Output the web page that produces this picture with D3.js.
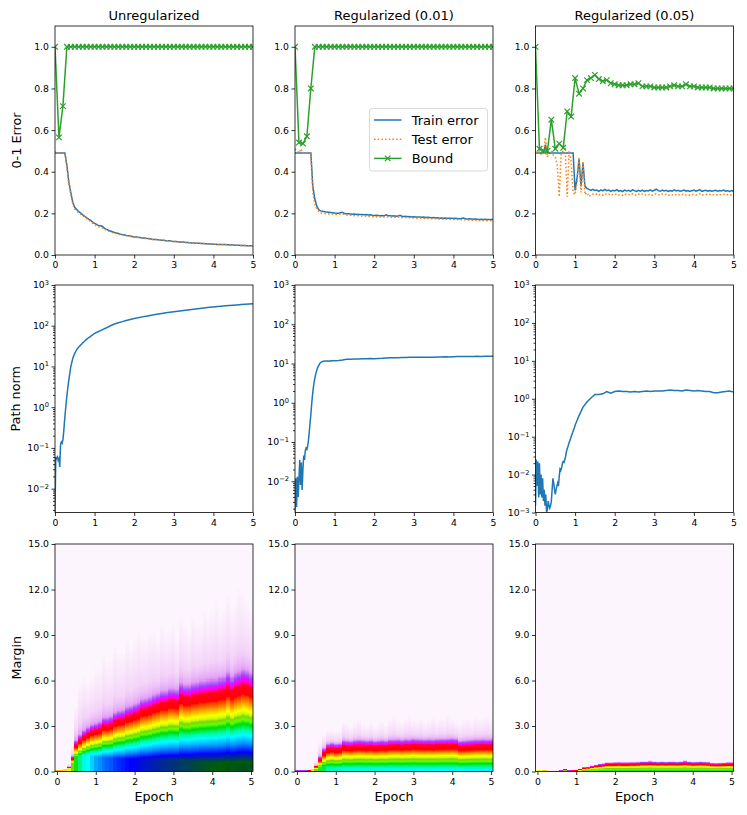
<!DOCTYPE html>
<html><head><meta charset="utf-8">
<script src="https://cdn.jsdelivr.net/npm/d3@7"></script>
<style>body{margin:0;background:#fff} text{font-family:"DejaVu Sans",sans-serif}</style>
</head><body><svg id="c" width="747" height="815"></svg>
<script>
// ---------------- DATA ----------------
const titles = ["Unregularized", "Regularized (0.01)", "Regularized (0.05)"];
const errTicks = [0, 0.2, 0.4, 0.6, 0.8, 1.0];
const epochTicks = [0, 1, 2, 3, 4, 5];
const marginTicks = [0, 3, 6, 9, 12, 15];
const errEpochs = d3.range(0, 101).map(i => i * 0.05);
const boundEpochs = d3.range(0, 51).map(i => i * 0.1);
const pnEpochs = d3.range(0, 51).map(i => i * 0.02).concat(d3.range(11, 51).map(i => i / 10));
const hmEpochs = d3.range(0, 51).map(i => i * 0.1);

const trainU = [
0.490,0.490,0.490,0.490,0.490,0.490,0.430,0.350,0.300,0.252,
0.228,0.219,0.208,0.201,0.193,0.186,0.179,0.172,0.166,0.158,
0.152,0.147,0.141,0.140,0.137,0.128,0.123,0.119,0.115,0.112,
0.108,0.106,0.103,0.100,0.098,0.097,0.094,0.093,0.091,0.089,
0.087,0.087,0.085,0.084,0.082,0.082,0.080,0.079,0.078,0.076,
0.075,0.075,0.073,0.072,0.071,0.071,0.069,0.068,0.068,0.066,
0.065,0.065,0.064,0.063,0.062,0.062,0.060,0.060,0.059,0.058,
0.058,0.057,0.057,0.056,0.055,0.055,0.054,0.054,0.053,0.053,
0.052,0.052,0.051,0.051,0.050,0.050,0.050,0.049,0.049,0.048,
0.048,0.047,0.047,0.047,0.046,0.046,0.046,0.045,0.045,0.045,
0.044];
const testU = [
0.495,0.490,0.490,0.490,0.490,0.488,0.420,0.340,0.290,0.245,
0.220,0.212,0.203,0.196,0.189,0.181,0.175,0.168,0.160,0.153,
0.146,0.141,0.136,0.132,0.129,0.124,0.119,0.115,0.112,0.108,
0.105,0.103,0.100,0.098,0.096,0.095,0.093,0.091,0.089,0.088,
0.086,0.085,0.084,0.083,0.081,0.080,0.079,0.078,0.076,0.075,
0.074,0.074,0.072,0.071,0.070,0.070,0.068,0.068,0.067,0.066,
0.065,0.064,0.063,0.063,0.062,0.061,0.060,0.060,0.059,0.058,
0.057,0.057,0.056,0.056,0.055,0.055,0.054,0.053,0.053,0.052,
0.052,0.051,0.051,0.050,0.050,0.049,0.049,0.049,0.048,0.048,
0.047,0.047,0.047,0.046,0.046,0.046,0.045,0.045,0.045,0.044,
0.044];
const trainR1 = [
0.490,0.490,0.490,0.490,0.490,0.490,0.490,0.490,0.490,0.330,
0.270,0.235,0.218,0.212,0.210,0.208,0.206,0.205,0.204,0.203,
0.202,0.200,0.201,0.203,0.205,0.199,0.198,0.198,0.197,0.196,
0.197,0.195,0.196,0.194,0.195,0.193,0.194,0.192,0.193,0.191,
0.190,0.191,0.190,0.189,0.190,0.188,0.193,0.189,0.188,0.187,
0.188,0.186,0.187,0.191,0.186,0.185,0.186,0.184,0.185,0.183,
0.184,0.183,0.182,0.183,0.181,0.182,0.180,0.181,0.180,0.179,
0.180,0.178,0.179,0.177,0.178,0.177,0.178,0.176,0.177,0.176,
0.175,0.176,0.175,0.174,0.175,0.178,0.174,0.173,0.174,0.173,
0.172,0.173,0.172,0.171,0.172,0.171,0.172,0.171,0.170,0.171,
0.171];
const testR1 = [
0.510,0.500,0.490,0.510,0.490,0.490,0.490,0.490,0.490,0.300,
0.245,0.220,0.208,0.203,0.200,0.199,0.198,0.197,0.197,0.196,
0.196,0.195,0.195,0.196,0.197,0.193,0.192,0.192,0.191,0.190,
0.189,0.189,0.188,0.188,0.187,0.187,0.186,0.186,0.185,0.185,
0.184,0.184,0.183,0.183,0.183,0.182,0.184,0.182,0.182,0.181,
0.181,0.180,0.181,0.183,0.180,0.179,0.180,0.179,0.179,0.178,
0.178,0.177,0.177,0.177,0.176,0.176,0.175,0.175,0.175,0.174,
0.174,0.174,0.173,0.173,0.173,0.172,0.172,0.172,0.171,0.171,
0.170,0.170,0.170,0.169,0.169,0.171,0.168,0.168,0.168,0.167,
0.167,0.167,0.166,0.166,0.166,0.166,0.166,0.165,0.165,0.165,
0.165];
const trainR5 = [
0.490,0.490,0.490,0.490,0.490,0.530,0.490,0.490,0.490,0.490,
0.490,0.490,0.490,0.490,0.490,0.490,0.490,0.490,0.490,0.490,
0.310,0.370,0.460,0.330,0.440,0.330,0.320,0.315,0.310,0.315,
0.310,0.312,0.306,0.313,0.308,0.315,0.309,0.312,0.306,0.311,
0.308,0.314,0.307,0.310,0.305,0.312,0.308,0.311,0.306,0.313,
0.309,0.305,0.311,0.307,0.312,0.306,0.310,0.308,0.313,0.307,
0.311,0.316,0.309,0.306,0.312,0.308,0.311,0.305,0.310,0.307,
0.313,0.308,0.311,0.306,0.309,0.312,0.307,0.310,0.305,0.309,
0.312,0.307,0.310,0.314,0.306,0.309,0.311,0.307,0.310,0.306,
0.309,0.311,0.306,0.310,0.308,0.312,0.307,0.309,0.305,0.310,
0.306];
const testR5 = [
0.490,0.490,0.500,0.480,0.490,0.565,0.470,0.490,0.500,0.480,
0.470,0.430,0.280,0.490,0.500,0.510,0.280,0.500,0.450,0.300,
0.290,0.350,0.470,0.300,0.450,0.290,0.300,0.280,0.290,0.292,
0.288,0.294,0.289,0.293,0.287,0.295,0.290,0.292,0.286,0.291,
0.289,0.294,0.288,0.291,0.286,0.293,0.289,0.291,0.287,0.294,
0.290,0.286,0.292,0.288,0.293,0.287,0.291,0.289,0.294,0.288,
0.292,0.295,0.290,0.287,0.293,0.289,0.292,0.286,0.291,0.288,
0.293,0.289,0.292,0.287,0.290,0.293,0.288,0.291,0.286,0.290,
0.292,0.288,0.291,0.294,0.287,0.290,0.292,0.288,0.291,0.287,
0.290,0.292,0.287,0.291,0.289,0.292,0.288,0.290,0.286,0.290,
0.289];
const boundU = [
1.000,0.565,0.715,1,1,1,1,1,1,1,
1,1,1,1,1,1,1,1,1,1,
1,1,1,1,1,1,1,1,1,1,
1,1,1,1,1,1,1,1,1,1,
1,1,1,1,1,1,1,1,1,1,
1];
const boundR1 = [
1.000,0.540,0.535,0.570,0.800,1,1,1,1,1,
1,1,1,1,1,1,1,1,1,1,
1,1,1,1,1,1,1,1,1,1,
1,1,1,1,1,1,1,1,1,1,
1,1,1,1,1,1,1,1,1,1,
1];
const boundR5 = [
1.000,0.510,0.500,0.500,0.650,0.510,0.535,0.515,0.690,0.665,
0.850,0.775,0.800,0.840,0.850,0.865,0.845,0.835,0.840,0.825,
0.820,0.815,0.815,0.815,0.820,0.820,0.825,0.810,0.810,0.810,
0.805,0.805,0.805,0.805,0.810,0.815,0.810,0.810,0.820,0.810,
0.810,0.805,0.805,0.805,0.805,0.800,0.800,0.800,0.800,0.800,
0.800];

const pnU = [
0.0026,0.060,0.055,0.060,0.050,0.055,0.034,0.120,0.140,0.130,
0.160,0.250,0.450,0.750,1.2,1.9,2.8,4.0,5.5,7.5,
10,12,14.5,17,19,21,23,25,27,28.5,
30,31.5,33,34.5,36,38,39.5,41,43,45,
47,48.5,50,51.5,53,55,57,59,61,63,
65,
72,80,89,100,110,118,126,134,142,150,
158,165,172,179,186,193,200,207,214,220,
227,234,241,248,255,262,269,276,283,290,
296,302,308,314,320,325,330,335,340,345];
const pnR1 = [
0.0016,0.012,0.0022,0.013,0.004,0.012,0.035,0.008,0.030,0.006,
0.020,0.045,0.035,0.060,0.070,0.065,0.080,0.110,0.180,0.300,
0.50,0.90,1.5,2.3,3.2,4.2,5.2,6.2,7.2,8.2,
9.0,9.8,10.4,10.8,11.1,11.3,11.4,11.5,11.5,11.6,
11.6,11.6,11.5,11.6,11.6,11.7,11.6,11.7,11.7,11.8,
11.8,
12.0,12.3,12.8,12.9,13.0,13.0,13.2,13.3,13.4,13.3,
13.5,13.6,13.8,14.0,14.1,14.0,14.2,14.3,14.4,14.5,
14.4,14.5,14.5,14.4,14.5,14.6,14.7,14.8,14.7,14.9,
15.0,15.0,15.0,15.1,15.1,15.2,15.1,15.2,15.3,15.2];
const pnR5 = [
0.0015,0.025,0.005,0.022,0.0025,0.020,0.003,0.010,0.0025,0.008,
0.002,0.004,0.0015,0.003,0.0010,0.0012,0.002,0.0015,0.0013,0.0015,
0.002,0.004,0.008,0.006,0.004,0.003,0.004,0.005,0.006,0.005,
0.009,0.014,0.013,0.015,0.020,0.022,0.021,0.025,0.030,0.040,
0.048,0.055,0.065,0.075,0.085,0.100,0.115,0.130,0.150,0.170,
0.200,
0.36,0.60,0.82,1.05,1.30,1.30,1.35,1.55,1.40,1.55,
1.60,1.55,1.55,1.50,1.55,1.50,1.55,1.60,1.55,1.60,
1.60,1.60,1.65,1.70,1.65,1.65,1.60,1.70,1.65,1.60,
1.65,1.60,1.55,1.55,1.45,1.45,1.50,1.55,1.60,1.50];
const pnLow = [0.0026, 0.0016, 0.001];

// Margin heatmap: per column, margin at top of red band, deepest colour level at margin 0, top of faint tail
const hmRedU = [0.05,0.05,0.08,0.25,0.85,1.75,2.07,2.33,2.50,2.66,
2.73,2.82,3.06,3.06,3.13,3.35,3.44,3.48,3.66,3.72,
3.83,3.92,4.10,4.14,4.23,4.36,4.45,4.58,4.58,4.71,
4.71,4.67,5.04,4.93,4.93,5.04,5.07,5.15,5.15,5.20,
5.24,5.24,5.33,5.37,5.60,5.37,5.55,5.64,5.77,5.70,
5.55];
const hmDeepU = [0.56,0.56,0.55,0.50,0.42,0.33,0.27,0.23,0.21,0.19,
0.17,0.16,0.15,0.145,0.14,0.13,0.125,0.12,0.115,0.11,
0.107,0.104,0.10,0.097,0.094,0.091,0.088,0.085,0.082,0.08,
0.078,0.076,0.072,0.07,0.068,0.065,0.062,0.06,0.058,0.056,
0.054,0.052,0.05,0.049,0.046,0.047,0.045,0.044,0.042,0.042,
0.043];
const hmTailU = [0.10,0.10,0.15,0.50,1.8,4.5,6.0,6.5,6.0,6.5,
7.0,7.0,8.0,7.5,7.5,8.5,8.0,8.0,9.0,8.5,
9.0,9.5,9.0,9.0,9.5,9.5,9.0,10.0,9.5,9.5,
10.0,9.0,10.5,10.0,9.5,10.5,10.0,10.0,11.0,10.5,
11.0,11.5,10.5,11.0,12.0,11.0,11.5,12.5,12.0,11.5,
11.0];
const hmRedR1 = [0.03,0.03,0.03,0.04,0.08,0.30,0.80,1.25,1.50,1.55,
1.50,1.52,1.70,1.67,1.65,1.70,1.72,1.70,1.68,1.70,
1.66,1.68,1.70,1.68,1.74,1.74,1.75,1.72,1.75,1.74,
1.78,1.76,1.75,1.74,1.75,1.74,1.76,1.77,1.77,1.78,
1.80,1.78,1.66,1.68,1.70,1.72,1.74,1.74,1.75,1.74,
1.75];
const hmDeepR1 = [0.50,0.50,0.50,0.50,0.50,0.42,0.34,0.29,0.26,0.245,
0.24,0.238,0.235,0.233,0.232,0.23,0.229,0.228,0.227,0.226,
0.225,0.224,0.223,0.222,0.221,0.22,0.219,0.218,0.217,0.216,
0.215,0.215,0.214,0.214,0.213,0.213,0.212,0.212,0.211,0.211,
0.21,0.21,0.21,0.209,0.209,0.208,0.208,0.208,0.207,0.207,
0.207];
const hmTailR1 = [0.05,0.05,0.05,0.06,0.12,0.70,2.0,2.5,2.8,2.8,
2.7,2.8,3.4,3.2,3.0,3.3,3.5,3.2,3.1,3.3,
3.0,3.2,3.4,3.1,3.5,3.7,3.4,3.3,3.6,3.8,
3.5,3.4,3.6,3.3,3.5,3.7,3.4,3.6,3.5,3.8,
3.6,3.4,3.2,3.5,3.6,3.4,3.7,3.5,3.6,3.8,
3.5];
const hmRedR5 = [0.06,0.06,0.05,0.02,0.02,0.02,0.03,0.10,0.03,0.04,
0.05,0.12,0.20,0.22,0.28,0.33,0.38,0.40,0.45,0.45,
0.46,0.47,0.46,0.46,0.47,0.47,0.48,0.50,0.50,0.52,
0.50,0.49,0.50,0.49,0.50,0.50,0.49,0.50,0.54,0.50,
0.48,0.49,0.50,0.49,0.48,0.43,0.42,0.43,0.44,0.46,
0.46];
const hmDeepR5 = [0.45,0.45,0.45,0.40,0.40,0.40,0.40,0.42,0.80,0.80,
0.70,0.50,0.42,0.40,0.38,0.36,0.35,0.34,0.34,0.34,
0.34,0.34,0.335,0.335,0.335,0.335,0.33,0.33,0.33,0.33,
0.33,0.33,0.33,0.33,0.33,0.33,0.33,0.33,0.33,0.33,
0.33,0.33,0.33,0.33,0.33,0.33,0.33,0.33,0.33,0.33,
0.33];
const hmTailR5 = [0.10,0.10,0.09,0.04,0.04,0.04,0.05,0.16,0.06,0.07,
0.08,0.18,0.28,0.31,0.38,0.45,0.52,0.55,0.62,0.62,
0.63,0.64,0.63,0.63,0.64,0.64,0.66,0.68,0.68,0.76,
0.68,0.67,0.68,0.67,0.68,0.68,0.67,0.68,0.80,0.68,
0.66,0.67,0.68,0.67,0.66,0.59,0.58,0.59,0.60,0.63,
0.63];
// colour-level profile vs (margin / red-band margin), per panel
const profRatioU = [0, 0.1, 0.2, 0.32, 0.42, 0.48, 0.55, 0.62, 0.71, 0.78, 0.87, 0.93, 1.0, 1.04, 1.09, 1.16];
const profLevelU = [0.02, 0.05, 0.10, 0.16, 0.21, 0.26, 0.32, 0.40, 0.53, 0.57, 0.62, 0.68, 0.75, 0.82, 0.88, 0.92];
const profRatioR1 = [0, 0.1, 0.29, 0.45, 0.58, 0.7, 0.8, 0.9, 1.0, 1.05, 1.12, 1.2];
const profLevelR1 = [0.19, 0.23, 0.32, 0.42, 0.53, 0.58, 0.63, 0.68, 0.75, 0.83, 0.88, 0.92];
const profRatioR5 = [0, 0.25, 0.45, 0.6, 0.72, 0.8, 1.0, 1.08, 1.15, 1.25];
const profLevelR5 = [0.32, 0.37, 0.45, 0.53, 0.58, 0.64, 0.76, 0.84, 0.89, 0.93];
// colormap (gist_ncar-like)
const cmapPos = [0, 0.05, 0.11, 0.16, 0.21, 0.26, 0.32, 0.37, 0.42, 0.47, 0.53, 0.56, 0.60, 0.64, 0.75, 0.80, 0.84, 0.88, 0.92, 0.96, 1.0];
const cmapCol = ["#000080","#005e06","#0000ff","#0090ff","#00ffff","#00fa9d","#00dc00","#66ff00","#84d000","#c8ff00","#ffff00","#ffc000","#ff6000","#ff0000","#ff0020","#ff00c0","#ff00ff","#a040ff","#dc8cf6","#f4d4f8","#fdf5fd"];

// ---------------- LAYOUT ----------------
const colL = [55, 295, 535.5], W = 198;
const rowT = [26, 285, 544], rowH = [229, 227.5, 227.5];
const C_TRAIN = "#1f77b4", C_TEST = "#ff7f0e", C_BOUND = "#2ca02c";
const FS_TICK = 9.3;
const svg = d3.select("#c");
const defs = svg.append("defs");
const cmap = d3.scaleLinear().domain(cmapPos).range(cmapCol).interpolate(d3.interpolateRgb).clamp(true);

const errData = [[trainU, testU, boundU], [trainR1, testR1, boundR1], [trainR5, testR5, boundR5]];
const pnData = [pnU, pnR1, pnR5];
const hmData = [
  [hmRedU, hmDeepU, hmTailU, profRatioU, profLevelU],
  [hmRedR1, hmDeepR1, hmTailR1, profRatioR1, profLevelR1],
  [hmRedR5, hmDeepR5, hmTailR5, profRatioR5, profLevelR5]];

function styleAxis(g) {
  g.attr("font-family", "DejaVu Sans").attr("font-size", FS_TICK);
  g.select(".domain").remove();
  g.selectAll(".tick line").attr("stroke", "#000").attr("stroke-width", 0.8);
  g.selectAll(".tick text").attr("fill", "#000");
}
function frame(g, h) {
  g.append("rect").attr("width", W).attr("height", h).attr("fill", "none")
    .attr("stroke", "#000").attr("stroke-width", 0.8);
}
function clip(id, h) {
  defs.append("clipPath").attr("id", id).append("rect").attr("width", W).attr("height", h);
  return `url(#${id})`;
}
function interp(xs, ys, v) {
  if (v <= xs[0]) return ys[0];
  for (let i = 1; i < xs.length; i++) {
    if (v <= xs[i]) { const t = (v - xs[i-1]) / (xs[i] - xs[i-1]); return ys[i-1] + t * (ys[i] - ys[i-1]); }
  }
  return ys[ys.length - 1];
}
function level(m, R, deep, T, pr, pl) {
  if (R <= 0 || m >= T) return 1;
  const r = m / R, rEnd = pr[pr.length - 1];
  let p;
  if (r <= rEnd) p = interp(pr, pl, r);
  else { const mEnd = rEnd * R, pe = pl[pl.length - 1]; p = pe + (1 - pe) * Math.sqrt((m - mEnd) / (T - mEnd)); }
  return Math.max(p, deep);
}

for (let c = 0; c < 3; c++) {
  // ---------- Row 1: 0-1 error ----------
  {
    const h = rowH[0];
    const g = svg.append("g").attr("transform", `translate(${colL[c]},${rowT[0]})`);
    const x = d3.scaleLinear([0, 5], [0, W]);
    const y = d3.scaleLinear([0, 1.1], [h, 0]);
    const cg = g.append("g").attr("clip-path", clip("ce" + c, h));
    const [tr, te, bo] = errData[c];
    const line = d3.line().x((d, i) => x(errEpochs[i])).y(d => y(d));
    cg.append("path").attr("d", line(tr)).attr("fill", "none").attr("stroke", C_TRAIN).attr("stroke-width", 1.5);
    cg.append("path").attr("d", line(te)).attr("fill", "none").attr("stroke", C_TEST).attr("stroke-width", 1.5).attr("stroke-dasharray", "1.5,2.2");
    const bline = d3.line().x((d, i) => x(boundEpochs[i])).y(d => y(d));
    cg.append("path").attr("d", bline(bo)).attr("fill", "none").attr("stroke", C_BOUND).attr("stroke-width", 1.5);
    cg.selectAll(".mk").data(bo).join("path").attr("class", "mk")
      .attr("transform", (d, i) => `translate(${x(boundEpochs[i])},${y(d)})`)
      .attr("d", "M-2.8,-2.8L2.8,2.8M-2.8,2.8L2.8,-2.8").attr("stroke", C_BOUND).attr("stroke-width", 1.2).attr("fill", "none");
    g.append("g").attr("transform", `translate(0,${h})`).call(d3.axisBottom(x).tickValues(epochTicks).tickFormat(d3.format("d")).tickSize(3.5).tickPadding(3)).call(styleAxis);
    g.append("g").call(d3.axisLeft(y).tickValues(errTicks).tickFormat(d3.format(".1f")).tickSize(3.5).tickPadding(2.5)).call(styleAxis);
    frame(g, h);
    svg.append("text").attr("x", colL[c] + W / 2).attr("y", 20).attr("text-anchor", "middle").attr("font-size", 13).attr("fill", "#000").text(titles[c]);
    if (c === 0) {
      svg.append("text").attr("transform", `translate(21,${rowT[0] + h / 2}) rotate(-90)`).attr("text-anchor", "middle").attr("font-size", 12.8).text("0-1 Error");
    }
    if (c === 1) {
      const lg = g.append("g").attr("transform", "translate(74.5,82.5)");
      lg.append("rect").attr("width", 118).attr("height", 62.5).attr("rx", 2.5).attr("fill", "#fff").attr("fill-opacity", 0.85).attr("stroke", "#d0d0d0").attr("stroke-width", 0.8);
      const items = [["Train error", C_TRAIN, null, false], ["Test error", C_TEST, "1.5,2.2", false], ["Bound", C_BOUND, null, true]];
      items.forEach((it, k) => {
        const yy = 11.5 + k * 19.2;
        lg.append("line").attr("x1", 4.5).attr("x2", 32).attr("y1", yy).attr("y2", yy).attr("stroke", it[1]).attr("stroke-width", 1.5).attr("stroke-dasharray", it[2]);
        if (it[3]) lg.append("path").attr("transform", `translate(18.2,${yy})`).attr("d", "M-2.8,-2.8L2.8,2.8M-2.8,2.8L2.8,-2.8").attr("stroke", it[1]).attr("stroke-width", 1.2);
        lg.append("text").attr("x", 42.2).attr("y", yy + 4.7).attr("font-size", 13).attr("fill", "#000").text(it[0]);
      });
    }
  }
  // ---------- Row 2: path norm ----------
  {
    const h = rowH[1];
    const g = svg.append("g").attr("transform", `translate(${colL[c]},${rowT[1]})`);
    const x = d3.scaleLinear([0, 5], [0, W]);
    const lo = pnLow[c];
    const y = d3.scaleLog([lo, 1000], [h, 0]);
    const cg = g.append("g").attr("clip-path", clip("cp" + c, h));
    const line = d3.line().x((d, i) => x(pnEpochs[i])).y(d => y(d));
    cg.append("path").attr("d", line(pnData[c])).attr("fill", "none").attr("stroke", C_TRAIN).attr("stroke-width", 1.5);
    const majors = [], minors = [];
    for (let k = -4; k <= 3; k++) {
      const v = Math.pow(10, k);
      if (v >= lo * 0.999 && v <= 1000) majors.push(v);
      for (let j = 2; j <= 9; j++) { const mv = j * v; if (mv >= lo && mv < 1000) minors.push(mv); }
    }
    g.append("g").attr("transform", `translate(0,${h})`).call(d3.axisBottom(x).tickValues(epochTicks).tickFormat(d3.format("d")).tickSize(3.5).tickPadding(3)).call(styleAxis);
    g.append("g").call(d3.axisLeft(y).tickValues(minors).tickFormat(() => "").tickSize(2)).call(styleAxis);
    g.append("g").call(d3.axisLeft(y).tickValues(majors).tickFormat(() => "").tickSize(3.5)).call(styleAxis);
    majors.forEach(v => {
      const k = Math.round(Math.log10(v));
      const t = g.append("text").attr("x", -6).attr("y", y(v)).attr("dy", "0.36em").attr("text-anchor", "end").attr("font-size", FS_TICK).attr("fill", "#000");
      t.append("tspan").text("10");
      t.append("tspan").attr("dy", "-0.5em").attr("font-size", FS_TICK * 0.72).text(k < 0 ? "\u2212" + (-k) : String(k));
    });
    frame(g, h);
    if (c === 0) {
      svg.append("text").attr("transform", `translate(19.5,${rowT[1] + h / 2}) rotate(-90)`).attr("text-anchor", "middle").attr("font-size", 12.8).text("Path norm");
    }
  }
  // ---------- Row 3: margin heatmap ----------
  {
    const h = rowH[2];
    const g = svg.append("g").attr("transform", `translate(${colL[c]},${rowT[2]})`);
    const x = d3.scaleLinear([-0.05, 5.05], [0, W]);
    const y = d3.scaleLinear([0, 15], [h, 0]);
    g.append("rect").attr("width", W).attr("height", h).attr("fill", cmap(1));
    const [Rs, Ds, Ts, pr, pl] = hmData[c];
    const step = 1 / 15;
    const cells = [];
    hmEpochs.forEach((e, i) => {
      for (let k = 0; k * step < Ts[i]; k++) {
        const m = (k + 0.5) * step;
        const p = level(m, Rs[i], Ds[i], Ts[i], pr, pl);
        if (p < 0.997) cells.push({ e, m0: k * step, m1: (k + 1) * step, p });
      }
    });
    g.append("g").attr("clip-path", clip("ch" + c, h)).attr("shape-rendering", "crispEdges")
      .selectAll("rect").data(cells).join("rect")
      .attr("x", d => x(d.e - 0.05)).attr("width", d => x(d.e + 0.05) - x(d.e - 0.05))
      .attr("y", d => y(d.m1)).attr("height", d => y(d.m0) - y(d.m1))
      .attr("fill", d => cmap(d.p));
    g.append("g").attr("transform", `translate(0,${h})`).call(d3.axisBottom(x).tickValues(epochTicks).tickFormat(d3.format("d")).tickSize(3.5).tickPadding(3)).call(styleAxis);
    g.append("g").call(d3.axisLeft(y).tickValues(marginTicks).tickFormat(d3.format(".1f")).tickSize(3.5).tickPadding(2.5)).call(styleAxis);
    frame(g, h);
    svg.append("text").attr("x", colL[c] + W / 2).attr("y", 801).attr("text-anchor", "middle").attr("font-size", 12.8).text("Epoch");
    if (c === 0) {
      svg.append("text").attr("transform", `translate(20.5,${rowT[2] + h / 2}) rotate(-90)`).attr("text-anchor", "middle").attr("font-size", 12.8).text("Margin");
    }
  }
}
</script></body></html>
